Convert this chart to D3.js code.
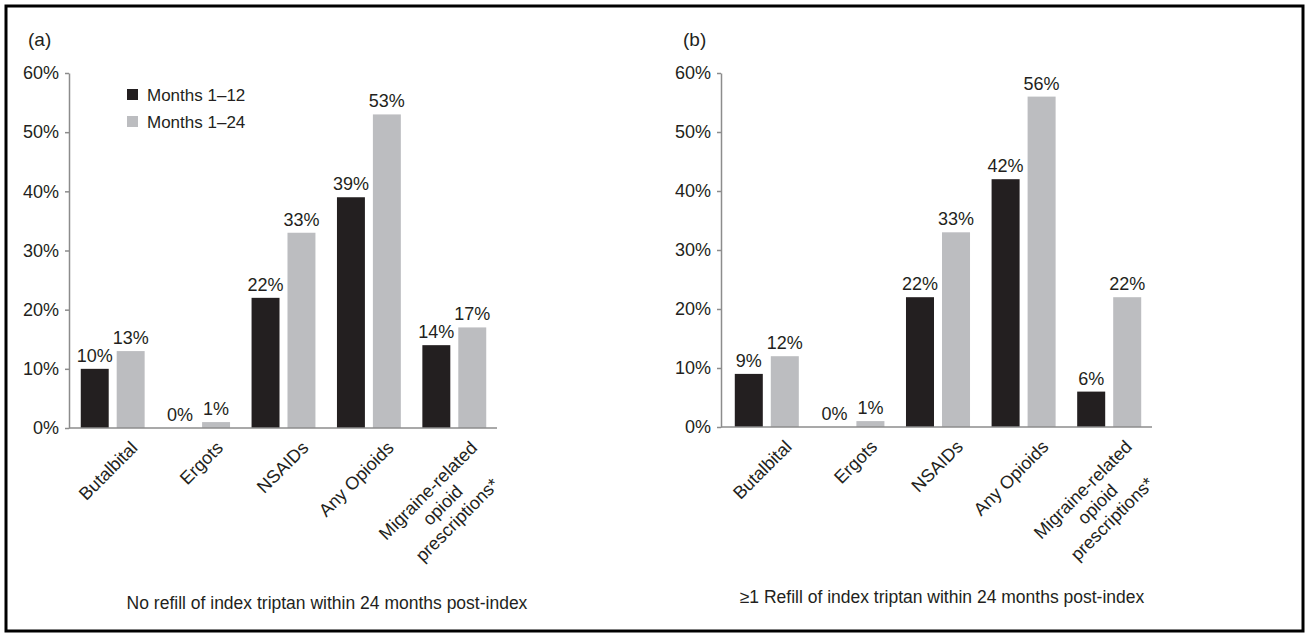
<!DOCTYPE html>
<html>
<head>
<meta charset="utf-8">
<script src="https://cdn.jsdelivr.net/npm/d3@7"></script>
<style>
  html, body { margin: 0; padding: 0; background: #fff; }
  svg text { font-family: "Liberation Sans", Arial, Helvetica, sans-serif; fill: #231f20; }
</style>
</head>
<body>
<svg id="chart" width="1309" height="637"></svg>
<script>
// Drug classes on the x axis (line breaks mark wrapped labels)
const categories = ["Butalbital", "Ergots", "NSAIDs", "Any Opioids", "Migraine-related\nopioid\nprescriptions*"];
const seriesNames = ["Months 1–12", "Months 1–24"];

// Panel (a): no refill of index triptan
const noRefillMonths12 = [10, 0, 22, 39, 14];
const noRefillMonths24 = [13, 1, 33, 53, 17];

// Panel (b): at least one refill of index triptan
const refillMonths12 = [9, 0, 22, 42, 6];
const refillMonths24 = [12, 1, 33, 56, 22];

const yTicks = [0, 10, 20, 30, 40, 50, 60];
const panelTags = ["(a)", "(b)"];
const panelCaptions = [
  "No refill of index triptan within 24 months post-index",
  "≥1 Refill of index triptan within 24 months post-index"
];
const seriesColors = ["#231f20", "#bcbdc0"];

const svg = d3.select("#chart");
const FONT = 17.5;
const AXIS_COLOR = "#8c8c8c";

const panels = [
  { tag: panelTags[0], caption: panelCaptions[0], s1: noRefillMonths12, s2: noRefillMonths24,
    axisX: 69, left: 70, right: 497, bottom: 428, top: 73, tagX: 28, tagY: 46, capX: 327, capY: 609, legend: true },
  { tag: panelTags[1], caption: panelCaptions[1], s1: refillMonths12, s2: refillMonths24,
    axisX: 721, left: 724, right: 1152, bottom: 427, top: 73, tagX: 683, tagY: 46, capX: 942, capY: 603, legend: false }
];

// outer frame
svg.append("rect")
  .attr("x", 6).attr("y", 6).attr("width", 1297).attr("height", 625)
  .attr("fill", "none").attr("stroke", "#000").attr("stroke-width", 3);

panels.forEach(p => {
  const g = svg.append("g");

  const y = d3.scaleLinear().domain([0, 60]).range([p.bottom, p.top]);
  const x0 = d3.scaleBand().domain(categories).range([p.left, p.right])
    .paddingInner(0.252).paddingOuter(0.126);
  const x1 = d3.scaleBand().domain(seriesNames).range([0, x0.bandwidth()]).paddingInner(0.222);

  // panel tag
  g.append("text").attr("x", p.tagX).attr("y", p.tagY)
    .attr("font-size", 19).text(p.tag);

  // y axis
  const yAxis = g.append("g").attr("transform", `translate(${p.axisX},0)`)
    .call(d3.axisLeft(y).tickValues(yTicks).tickFormat(d => d + "%")
      .tickSize(4).tickSizeOuter(0).tickPadding(6));
  yAxis.select(".domain").attr("stroke", AXIS_COLOR).attr("stroke-width", 1.5);
  yAxis.selectAll(".tick line").attr("stroke", AXIS_COLOR).attr("stroke-width", 1.5);
  yAxis.selectAll(".tick text").attr("font-size", 18).attr("fill", "#231f20")
    .attr("font-family", null);

  // bars
  const rows = categories.map((c, i) => ({ cat: c, vals: [p.s1[i], p.s2[i]] }));
  const grp = g.selectAll(".grp").data(rows).join("g")
    .attr("transform", d => `translate(${x0(d.cat)},0)`);
  grp.selectAll("rect").data(d => d.vals.map((v, k) => ({ k, v }))).join("rect")
    .attr("x", d => x1(seriesNames[d.k]))
    .attr("width", x1.bandwidth())
    .attr("y", d => y(d.v))
    .attr("height", d => y(0) - y(d.v))
    .attr("fill", d => seriesColors[d.k]);
  grp.selectAll("text.val").data(d => d.vals.map((v, k) => ({ k, v }))).join("text")
    .attr("class", "val")
    .attr("x", d => x1(seriesNames[d.k]) + x1.bandwidth() / 2)
    .attr("y", d => y(d.v) - 7)
    .attr("text-anchor", "middle")
    .attr("font-size", 18)
    .text(d => d.v + "%");

  // x axis
  const xAxis = g.append("g").attr("transform", `translate(0,${p.bottom})`)
    .call(d3.axisBottom(x0).tickSize(0).tickSizeOuter(0).tickFormat(""));
  xAxis.select(".domain").attr("d", `M${p.axisX},0H${p.right}`)
    .attr("stroke", AXIS_COLOR).attr("stroke-width", 1.5);

  // rotated category labels
  xAxis.selectAll(".tick").each(function (d) {
    const lines = d.split("\n");
    const t = d3.select(this).append("text")
      .attr("font-size", 18)
      .attr("fill", "#231f20");
    lines.forEach((ln, i) => {
      t.append("tspan").attr("x", 0).attr("dy", i === 0 ? 0 : "1.15em").text(ln);
    });
    if (lines.length === 1) {
      t.attr("text-anchor", "end").attr("transform", "translate(26,21) rotate(-45)");
    } else {
      // center each line within the widest one
      const w = d3.max(t.selectAll("tspan").nodes(), n => n.getComputedTextLength());
      t.attr("text-anchor", "middle").attr("transform", "translate(24,21) rotate(-45)");
      t.selectAll("tspan").attr("x", -w / 2);
    }
  });

  // caption
  g.append("text").attr("x", p.capX).attr("y", p.capY)
    .attr("text-anchor", "middle").attr("font-size", FONT).text(p.caption);

  // legend
  if (p.legend) {
    const lg = g.append("g").attr("transform", "translate(127,89)");
    seriesNames.forEach((s, i) => {
      lg.append("rect").attr("x", 0).attr("y", i * 27).attr("width", 11).attr("height", 11)
        .attr("fill", seriesColors[i]);
      lg.append("text").attr("x", 20).attr("y", i * 27 + 11.5)
        .attr("font-size", 17).text(s);
    });
  }
});
</script>
</body>
</html>
